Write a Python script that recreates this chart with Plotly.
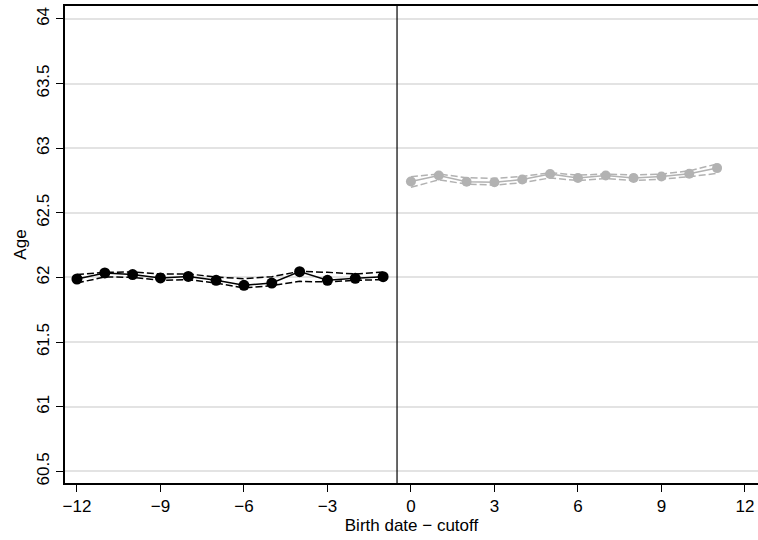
import plotly.graph_objects as go

# Data
x_left = [-12, -11, -10, -9, -8, -7, -6, -5, -4, -3, -2, -1]
age_left = [61.988, 62.035, 62.022, 61.996, 62.008, 61.978, 61.939, 61.957, 62.045, 61.978, 61.993, 62.006]
ci_up_left = [62.022, 62.040, 62.042, 62.027, 62.027, 62.004, 61.990, 62.006, 62.047, 62.040, 62.027, 62.042]
ci_lo_left = [61.957, 62.004, 62.001, 61.978, 61.983, 61.957, 61.919, 61.937, 61.970, 61.965, 61.978, 61.983]

x_right = [0, 1, 2, 3, 4, 5, 6, 7, 8, 9, 10, 11]
age_right = [62.743, 62.789, 62.741, 62.736, 62.758, 62.800, 62.769, 62.789, 62.769, 62.781, 62.802, 62.846]
ci_up_right = [62.780, 62.800, 62.772, 62.765, 62.782, 62.810, 62.792, 62.800, 62.792, 62.800, 62.825, 62.878]
ci_lo_right = [62.698, 62.755, 62.722, 62.715, 62.732, 62.770, 62.750, 62.765, 62.750, 62.760, 62.780, 62.805]

y_ticks = [60.5, 61, 61.5, 62, 62.5, 63, 63.5, 64]
x_ticks = [-12, -9, -6, -3, 0, 3, 6, 9, 12]
cutoff = -0.5

BLACK = "#000000"
GRAY = "#b2b2b2"

fig = go.Figure()

def add_series(x, y, up, lo, color, msize):
    for band in (up, lo):
        fig.add_trace(go.Scatter(x=x, y=band, mode="lines",
                                 line=dict(color=color, width=1.5, dash="7px,3px"),
                                 showlegend=False, hoverinfo="skip"))
    fig.add_trace(go.Scatter(x=x, y=y, mode="lines+markers",
                             line=dict(color=color, width=1.5),
                             marker=dict(color=color, size=msize),
                             showlegend=False))

add_series(x_left, age_left, ci_up_left, ci_lo_left, BLACK, 11)
add_series(x_right, age_right, ci_up_right, ci_lo_right, GRAY, 10)

fig.add_shape(type="line", xref="x", yref="paper", x0=cutoff, x1=cutoff, y0=0, y1=1,
              line=dict(color=BLACK, width=1.2))

FONT = "Liberation Sans, Arial, sans-serif"

fig.update_layout(
    width=758, height=540,
    margin=dict(l=65, r=0, t=6, b=57),
    plot_bgcolor="white", paper_bgcolor="white",
    font=dict(family=FONT, size=17, color="black"),
    xaxis=dict(
        range=[-12.43, 12.47], tickvals=x_ticks, ticks="outside", ticklen=7,
        tickcolor="black", showgrid=False, zeroline=False, automargin=False,
        showline=True, linecolor="black", linewidth=1.5, mirror=True,
        title=dict(text="Birth date − cutoff", font=dict(size=17), standoff=1),
        tickfont=dict(size=17),
    ),
    yaxis=dict(
        range=[60.41, 64.10], tickvals=y_ticks, ticktext=[("%g" % v) for v in y_ticks],
        ticks="outside", ticklen=7, tickcolor="black", tickangle=-90, automargin=False,
        showgrid=True, gridcolor="#e3e3e3", gridwidth=1.5, zeroline=False,
        showline=True, linecolor="black", linewidth=1.5,
        title=dict(text="Age", font=dict(size=17), standoff=4),
        tickfont=dict(size=17),
    ),
)

fig.write_html("out.html", config={"displayModeBar": False},
               post_script="document.body.style.margin='0';document.body.style.overflow='hidden';")
